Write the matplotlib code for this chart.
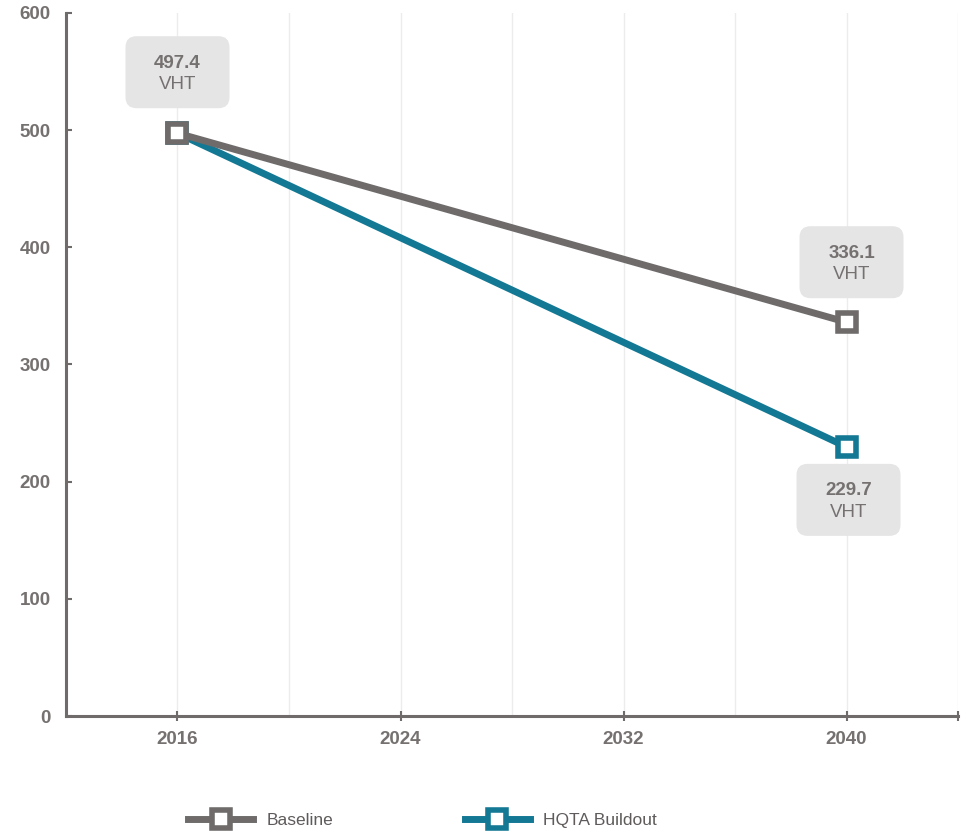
import matplotlib
matplotlib.use('Agg')
from matplotlib import pyplot as plt
from matplotlib.patches import FancyBboxPatch
from matplotlib.transforms import IdentityTransform, ScaledTranslation
import numpy as np

years = [2016, 2040]
baseline = [497.4, 336.1]
hqta = [497.4, 229.7]
series_names = ['Baseline', 'HQTA Buildout']
x_ticks = [2016, 2024, 2032, 2040]
y_ticks = [0, 100, 200, 300, 400, 500, 600]

gray = '#6f6b6b'
teal = '#137893'
text_gray = '#767171'
box_fill = '#e5e5e5'

plt.rcParams['font.family'] = ['Liberation Sans', 'DejaVu Sans']

fig = plt.figure(figsize=(9.72, 8.32), dpi=100)
ax = fig.add_axes([0.0679, 0.1394, 0.9177, 0.845])

# vertical gridlines every 4 years
for gx in range(2016, 2045, 4):
    ax.axvline(gx, color='#ececec', lw=1.0, zorder=0)

mk = dict(marker='s', markersize=13.3, markerfacecolor='white', markeredgewidth=4)
ax.plot(years, hqta, color=teal, lw=5, markeredgecolor=teal, label=series_names[1], zorder=3, **mk)
ax.plot(years, baseline, color=gray, lw=5, markeredgecolor=gray, label=series_names[0], zorder=4, **mk)

ax.set_xlim(2012, 2044)
ax.set_ylim(0, 600)
ax.set_xticks(x_ticks + [2044])
ax.set_xticklabels([str(x) for x in x_ticks] + [''])
ax.set_yticks(y_ticks)

for s in ['top', 'right']:
    ax.spines[s].set_visible(False)
for s in ['left', 'bottom']:
    ax.spines[s].set_color(gray)
    ax.spines[s].set_linewidth(2.2)

ax.tick_params(axis='x', direction='inout', length=7, width=1.5, color=gray,
               labelcolor=text_gray, labelsize=13.5, pad=7)
ax.tick_params(axis='y', direction='in', length=4, width=1.5, color=gray,
               labelcolor=text_gray, labelsize=13.5, pad=11)
for lab in ax.get_xticklabels() + ax.get_yticklabels():
    lab.set_fontweight('bold')

# value callouts: (x, y, box offset in pixels)
callouts = [(2016, 497.4, 0, 61), (2040, 336.1, 5, 60), (2040, 229.7, 2, -53)]
for xv, yv, dx, dy in callouts:
    tr = IdentityTransform() + ScaledTranslation(xv, yv, ax.transData)
    box = FancyBboxPatch((dx - 52 + 10, dy - 36 + 10), 104 - 20, 72 - 20,
                         boxstyle='round,pad=10,rounding_size=11',
                         fc=box_fill, ec='none', transform=tr, zorder=5, clip_on=False)
    ax.add_patch(box)
    ax.annotate(f'{yv:.1f}', xy=(xv, yv), xytext=(dx, dy + 9), textcoords='offset pixels',
                ha='center', va='center', fontsize=13.5, fontweight='bold',
                color=text_gray, zorder=6)
    ax.annotate('VHT', xy=(xv, yv), xytext=(dx, dy - 12.5), textcoords='offset pixels',
                ha='center', va='center', fontsize=13.5, color=text_gray, zorder=6)

h, l = ax.get_legend_handles_labels()
fig.legend(h[::-1], l[::-1], loc='center', bbox_to_anchor=(0.435, 0.014), ncol=2, frameon=False,
           fontsize=12.5, handlelength=3.7, handletextpad=0.8, columnspacing=7.6,
           labelcolor='#5f5b5b')

plt.savefig('out.png', dpi=100)
